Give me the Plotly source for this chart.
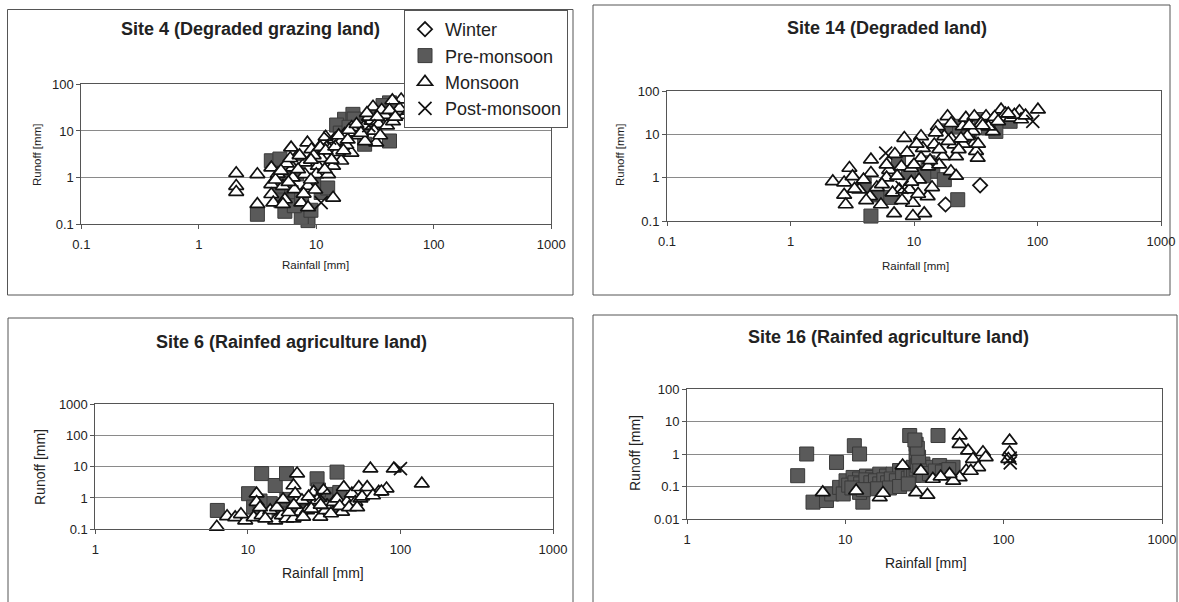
import plotly.graph_objects as go

W, H = 1179, 602
FONT = "Liberation Sans, Arial, sans-serif"

series_names = ["Winter", "Pre-monsoon", "Monsoon", "Post-monsoon"]

# ---------------- Site 4 (Degraded grazing land) ----------------
s4_winter_x = []
s4_winter_y = []
s4_pre_x = [3.15, 4.14, 5.4, 8.5, 7.45, 11, 6.1, 5.0, 17.4, 20.5, 42, 42, 24.1, 31, 25.8, 4.9, 5.5, 4.7, 14.9, 21, 37, 6.5, 9.5,
            6.8, 7.5, 9.0, 12.5, 16, 19, 27, 34, 45]
s4_pre_y = [0.164, 2.3, 0.19, 0.12, 0.14, 0.48, 0.48, 0.32, 17.8, 22.7, 6.1, 40, 10, 15, 5.2, 2.5, 1.09, 0.66, 13.4, 18, 35, 0.25, 0.8,
            1.2, 0.35, 0.2, 0.6, 9, 12, 16, 24, 30]
s4_mon_x = [2.08, 2.08, 2.08, 3.15, 3.15, 4.14, 4.14, 4.14, 4.3, 5.2, 5.4, 6.1, 6.3, 6.3, 5.2, 6.5, 7.45, 8.4, 8.0, 8.0,
            8.5, 8.5, 10.3, 10.3, 10.0, 9.1, 11.4, 12.6, 12.6, 13.9, 13.9, 14.3, 16.3, 16.3, 19.9, 17.4, 21.2, 25.8, 29.4, 30.4,
            32.4, 38.2, 49.5, 52.8, 38.3, 51, 57.7, 73.6, 44.4, 4.7, 5.6, 7.0, 9.0, 11.0, 13.0, 15.0, 18.0, 23.0, 26.0, 34.0,
            40.0, 45.0, 6.8, 9.5, 12, 20, 28, 36, 4.5, 5.0, 5.8, 6.0, 7.2, 7.8, 9.0, 9.8, 10.8, 11.8,
            12.0, 13.5, 14.5, 15.5, 17, 18.5, 19, 22, 24, 27, 31, 33, 35, 42, 47, 62]
s4_mon_y = [1.24, 0.66, 0.49, 1.18, 0.27, 1.64, 0.72, 0.44, 0.29, 0.66, 0.34, 4.4, 1.64, 1.0, 0.27, 0.56, 0.29, 5.6, 2.1, 1.18,
            0.66, 0.23, 3.2, 1.78, 1.18, 4.05, 5.6, 2.9, 1.18, 0.37, 1.78, 6.6, 2.3, 6.1, 3.4, 8.5, 9.2, 12.8, 16.4, 33,
            5.6, 19.3, 26.8, 47, 22, 30.6, 22, 22, 45, 1.2, 2.0, 1.5, 0.9, 2.6, 4.0, 3.5, 5.0, 8.0, 6.0, 14,
            13, 16, 2.8, 3.0, 7.5, 12, 20, 28, 0.9, 1.4, 0.8, 2.6, 3.0, 0.45, 2.4, 0.55, 4.5, 1.5,
            3.8, 2.4, 4.6, 8, 3.8, 6.5, 10.5, 14, 9, 24, 10, 20, 8, 28, 20, 27]
s4_post_x = [11, 90.8, 13, 28]
s4_post_y = [0.29, 20, 7, 13]

# ---------------- Site 14 (Degraded land) ----------------
s14_winter_x = [34.3, 18]
s14_winter_y = [0.665, 0.24]
s14_pre_x = [4.48, 3.95, 14.2, 17.6, 22.6, 21.3, 46, 5.0, 7.5, 12, 35, 60, 18, 6.5, 9, 13, 28, 40]
s14_pre_y = [0.13, 0.69, 1.4, 0.9, 0.31, 15.3, 11.7, 0.4, 2.5, 1.1, 22, 20, 12, 0.35, 1.3, 2.2, 10, 14]
s14_mon_x = [2.2, 2.72, 3.0, 3.18, 2.72, 2.8, 4.48, 4.48, 3.6, 4.4, 5.4, 6.3, 6.9, 8.35, 7.9, 7.6, 9.5, 9.2, 9.8, 11.4,
             11.8, 11.4, 11.0, 12.9, 12.1, 9.8, 15.6, 14.6, 17.1, 17.6, 18.7, 19.9, 21.9, 21.9, 21.3, 24.8, 26.3, 30.8, 30.0, 30.8,
             31.8, 32.8, 38.3, 43.5, 50.7, 52.5, 61, 71.4, 73.6, 100.8, 43.5, 7.0, 6.0, 5.0, 8.0, 10, 13, 16, 20, 25,
             27, 35, 40, 45, 55, 65, 3.3, 3.9, 4.1, 5.5, 6.0, 6.7, 7.3, 8.8, 9.5, 10.5,
             10.8, 13.5, 14, 15, 16, 19, 20, 23, 24, 28, 33, 36, 48, 58, 80]
s14_mon_y = [0.82, 0.77, 1.67, 1.07, 0.40, 0.24, 2.6, 1.28, 0.53, 0.37, 0.24, 1.5, 0.15, 8.2, 1.8, 0.53, 1.67, 0.53, 0.26, 9.0,
             4.8, 2.85, 0.9, 0.37, 0.15, 0.13, 15.3, 5.8, 3.1, 9.0, 26, 1.4, 1.1, 3.1, 5.8, 15.3, 24, 26, 11.7, 6.3,
             4.1, 2.85, 26, 11.7, 37, 24, 24, 34, 22, 37, 22, 3.5, 1.0, 0.6, 0.3, 2.0, 1.8, 2.0, 8.0, 6.0,
             9.0, 18, 15, 25, 30, 28, 0.55, 0.9, 0.3, 0.7, 2.0, 0.45, 1.1, 3.8, 0.8, 6.0,
             0.42, 2.5, 0.6, 11, 4.5, 7, 18, 4.5, 8, 16, 6, 16, 20, 30, 27]
s14_post_x = [5.9, 91.6, 8]
s14_post_y = [3.7, 20, 0.6]

# ---------------- Site 6 (Rainfed agriculture land) ----------------
s6_winter_x = []
s6_winter_y = []
s6_pre_x = [6.3, 12.3, 15.1, 10.1, 17.9, 28.4, 38.4, 10.9, 14, 18, 25, 33, 22, 12, 16, 20, 29, 35, 40]
s6_pre_y = [0.40, 6.0, 2.5, 1.37, 6.0, 4.1, 6.7, 0.51, 0.66, 0.9, 0.7, 1.3, 0.35, 0.8, 0.3, 0.5, 1.8, 0.55, 1.5]
s6_mon_x = [6.25, 7.3, 8.25, 9.6, 10.9, 11.4, 11.4, 12.3, 14.0, 15.1, 16.7, 17.9, 19.9, 19.9, 21.0, 20.4, 22.0, 24.4, 27, 28.4,
            29.8, 31.3, 32.2, 33, 36.5, 38.4, 41.4, 42.5, 44.5, 48, 50.6, 53.3, 54.6, 60.5, 63.5, 72, 81, 90.4, 138, 22.6,
            9, 12, 13, 15.5, 17, 18.5, 20, 23, 25, 26, 30, 35, 40, 46, 52, 56, 66, 75]
s6_mon_y = [0.12, 0.26, 0.24, 0.19, 0.24, 1.37, 0.74, 0.28, 0.4, 0.19, 0.28, 0.22, 0.22, 2.5, 6.0, 1.37, 0.36, 0.4, 1.55, 0.84,
            0.25, 1.75, 0.4, 0.58, 0.74, 0.95, 0.36, 2.2, 0.74, 1.37, 0.74, 2.2, 0.95, 2.2, 8.6, 1.55, 2.0, 8.6, 2.86, 0.84,
            0.3, 0.5, 0.22, 0.5, 0.9, 0.35, 0.6, 0.25, 1.1, 0.45, 0.6, 0.32, 0.55, 0.5, 0.5, 1.1, 1.2, 1.6]
s6_post_x = [100, 30]
s6_post_y = [8.6, 1.2]

# ---------------- Site 16 (Rainfed agriculture land) ----------------
s16_winter_x = []
s16_winter_y = []
s16_pre_x = [5.0, 5.7, 8.8, 6.25, 11.4, 12.3, 12.9, 25.5, 38.5, 7.6, 8.2, 9.2, 10.1, 11.2, 12.3, 13.6, 14.9, 16.5, 18.2, 20,
             22, 24.3, 26.8, 28.1, 28, 28, 28.7, 30.9, 32.5, 35.7, 39.4, 43.5, 47.9, 9.7, 12.3, 15.7, 20, 24.3, 22,
             10.5, 11.5, 12.5, 13.5, 14.5, 15.5, 16.5, 17.5, 18.5, 19.5, 21, 23, 25, 26, 27, 28, 28.5, 29, 28.5, 27.5,
             29.5, 31, 34, 37, 41, 45, 11, 13, 16, 19, 22, 25]
s16_pre_y = [0.215, 1.0, 0.55, 0.033, 1.8, 1.0, 0.033, 3.7, 3.7, 0.037, 0.059, 0.094, 0.15, 0.19, 0.17, 0.21, 0.19, 0.24, 0.21, 0.24,
             0.31, 0.35, 0.39, 0.62, 1.1, 2.0, 0.24, 0.49, 0.31, 0.39, 0.44, 0.31, 0.39, 0.059, 0.066, 0.094, 0.106, 0.15, 0.13,
             0.11, 0.13, 0.12, 0.16, 0.13, 0.15, 0.12, 0.16, 0.13, 0.17, 0.15, 0.2, 0.18, 0.25, 0.22, 0.35, 0.45, 0.8, 1.5, 2.7,
             0.3, 0.22, 0.25, 0.3, 0.28, 0.33, 0.09, 0.08, 0.085, 0.09, 0.1, 0.12]
s16_mon_x = [52.7, 52.7, 59.6, 64, 74, 77, 69, 58, 52.7, 48, 109, 109, 107, 16.5, 11.7, 28, 7.2, 23, 35.7, 45.5,
             33, 17.3, 40, 30, 62]
s16_mon_y = [3.7, 2.0, 1.27, 0.7, 1.13, 0.79, 0.39, 0.31, 0.19, 0.15, 2.57, 1.13, 0.7, 0.046, 0.074, 0.066, 0.066, 0.44, 0.17, 0.24,
             0.055, 0.063, 0.2, 0.3, 0.3]
s16_post_x = [110, 110]
s16_post_y = [0.53, 0.75]

# ---------------- tick labels ----------------
x_ticks_a = [0.1, 1, 10, 100, 1000]
x_text_a = ["0.1", "1", "10", "100", "1000"]
x_ticks_b = [1, 10, 100, 1000]
x_text_b = ["1", "10", "100", "1000"]
y_ticks_4 = [0.1, 1, 10, 100]
y_text_4 = ["0.1", "1", "10", "100"]
y_ticks_6 = [0.1, 1, 10, 100, 1000]
y_text_6 = ["0.1", "1", "10", "100", "1000"]
y_ticks_16 = [0.01, 0.1, 1, 10, 100]
y_text_16 = ["0.01", "0.1", "1", "10", "100"]

titles = ["Site 4 (Degraded grazing land)", "Site 14 (Degraded land)",
          "Site 6 (Rainfed agriculture land)", "Site 16 (Rainfed agriculture land)"]
x_title = "Rainfall [mm]"
y_title = "Runoff [mm]"

panels = [
    {"ax": "", "data": [(s4_winter_x, s4_winter_y), (s4_pre_x, s4_pre_y), (s4_mon_x, s4_mon_y), (s4_post_x, s4_post_y)]},
    {"ax": "2", "data": [(s14_winter_x, s14_winter_y), (s14_pre_x, s14_pre_y), (s14_mon_x, s14_mon_y), (s14_post_x, s14_post_y)]},
    {"ax": "3", "data": [(s6_winter_x, s6_winter_y), (s6_pre_x, s6_pre_y), (s6_mon_x, s6_mon_y), (s6_post_x, s6_post_y)]},
    {"ax": "4", "data": [(s16_winter_x, s16_winter_y), (s16_pre_x, s16_pre_y), (s16_mon_x, s16_mon_y), (s16_post_x, s16_post_y)]},
]

markers = [
    dict(symbol="diamond", size=11, color="white", line=dict(color="#111", width=1.7)),
    dict(symbol="square", size=14, color="#5a5a5a", line=dict(color="#3a3a3a", width=1)),
    dict(symbol="triangle-up", size=13, color="white", line=dict(color="#111", width=1.7)),
    dict(symbol="x-thin", size=13, color="#111", line=dict(color="#111", width=1.7)),
]

fig = go.Figure()
for si, name in enumerate(series_names):
    shown = False
    for p in panels:
        xs, ys = p["data"][si]
        show = (not shown) and len(xs) > 0
        if show:
            shown = True
        fig.add_trace(go.Scatter(
            x=xs, y=ys, mode="markers", name=name,
            showlegend=show, marker=markers[si], cliponaxis=False,
            xaxis="x" + p["ax"], yaxis="y" + p["ax"]))


def px(v):
    return v / W


def py(v):
    return 1 - v / H


axis_common = dict(type="log", showline=True, mirror=True, linecolor="#555", linewidth=1,
                   ticks="outside", ticklen=4, tickcolor="#555", zeroline=False, automargin=False,
                   tickfont=dict(family=FONT, size=13, color="#222"), fixedrange=True)

geo = [
    (81.4, 551.2, [-1, 3], 84.3, 224.3, [-1, 2], (x_ticks_a, x_text_a), (y_ticks_4, y_text_4)),
    (667, 1161, [-1, 3], 91, 221, [-1, 2], (x_ticks_a, x_text_a), (y_ticks_4, y_text_4)),
    (95.4, 553, [0, 3], 404, 529.3, [-1, 3], (x_ticks_b, x_text_b), (y_ticks_6, y_text_6)),
    (687, 1162, [0, 3], 389, 519, [-2, 2], (x_ticks_b, x_text_b), (y_ticks_16, y_text_16)),
]

layout = dict(width=W, height=H, margin=dict(l=0, r=0, t=0, b=0, pad=0), autosize=False,
              paper_bgcolor="white", plot_bgcolor="white", font=dict(family=FONT, color="#222"))
for i, (x0, x1, xr, yt, yb, yr, xt, yt_) in enumerate(geo):
    suf = "" if i == 0 else str(i + 1)
    layout["xaxis" + suf] = dict(axis_common, domain=[px(x0), px(x1)], range=xr, anchor="y" + suf,
                                 showgrid=False, tickvals=xt[0], ticktext=xt[1], ticklabelstandoff=4)
    layout["yaxis" + suf] = dict(axis_common, domain=[py(yb), py(yt)], range=yr, anchor="x" + suf,
                                 showgrid=True, gridcolor="#8a8a8a", gridwidth=1,
                                 tickvals=yt_[0], ticktext=yt_[1])
fig.update_layout(**layout)

# panel frames
frames = [(7.5, 9.5, 573, 295), (593, 5, 1170, 295), (8, 318, 573, 640), (593, 315, 1177, 640)]
for (a, b, c, d) in frames:
    fig.add_shape(type="rect", xref="paper", yref="paper", x0=px(a), x1=px(c), y0=py(d), y1=py(b),
                  line=dict(color="#555", width=1), fillcolor="rgba(0,0,0,0)", layer="below")

# titles and axis titles
title_pos = [(250, 29), (887, 28), (291, 342), (888, 337)]
xt_pos = [(315.6, 265, 11.5), (915, 266, 11.5), (323, 573, 14), (925.5, 563, 14)]
yt_pos = [(37, 155, 11.5), (620, 155, 11.5), (40, 467, 14), (635, 453, 14)]
for i in range(4):
    fig.add_annotation(text="<b>" + titles[i] + "</b>", x=px(title_pos[i][0]), y=py(title_pos[i][1]),
                       xref="paper", yref="paper", xanchor="center", yanchor="middle",
                       showarrow=False, font=dict(family=FONT, size=18, color="#222"))
    fig.add_annotation(text=x_title, x=px(xt_pos[i][0]), y=py(xt_pos[i][1]), xref="paper", yref="paper",
                       xanchor="center", yanchor="middle",
                       showarrow=False, font=dict(family=FONT, size=xt_pos[i][2], color="#222"))
    fig.add_annotation(text=y_title, x=px(yt_pos[i][0]), y=py(yt_pos[i][1]), xref="paper", yref="paper",
                       xanchor="center", yanchor="middle",
                       showarrow=False, textangle=-90, font=dict(family=FONT, size=yt_pos[i][2], color="#222"))

fig.update_layout(legend=dict(x=px(404), y=py(10), xanchor="left", yanchor="top",
                              bgcolor="white", bordercolor="#555", borderwidth=1,
                              font=dict(family=FONT, size=18, color="#222"),
                              tracegroupgap=0, itemsizing="trace"))

fig.write_html("out.html", config={"displayModeBar": False},
               post_script="document.body.style.margin='0';")
